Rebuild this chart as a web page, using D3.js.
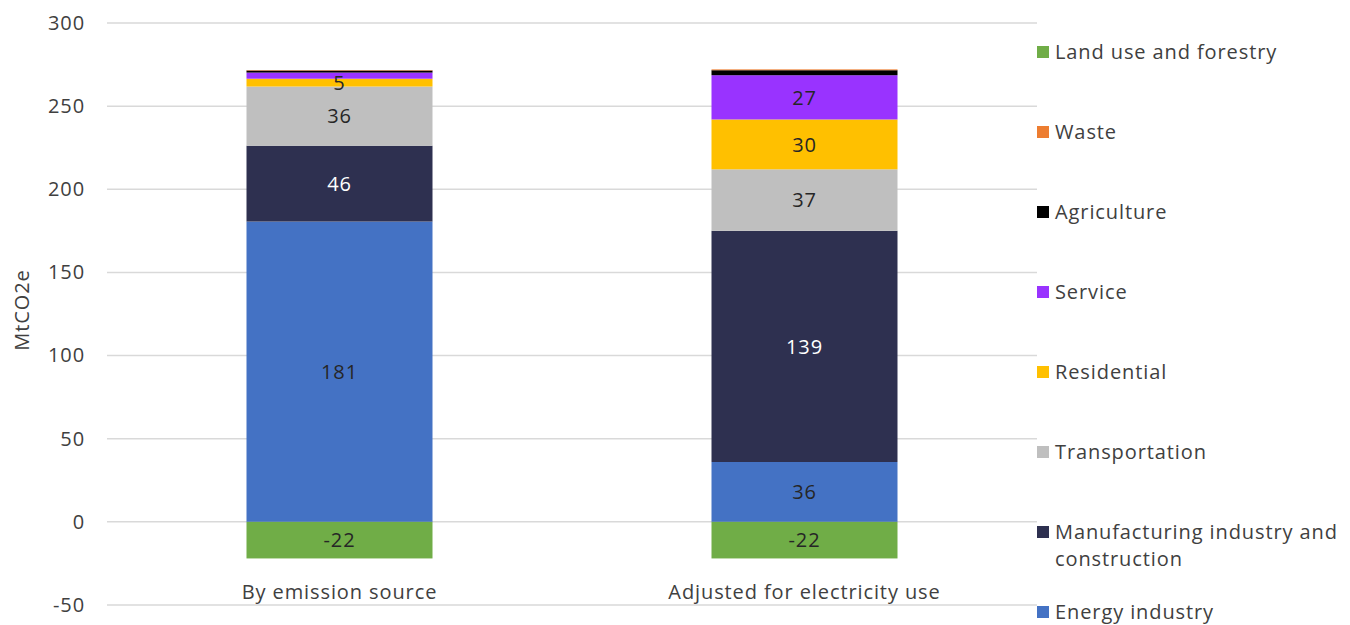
<!DOCTYPE html>
<html>
<head>
<meta charset="utf-8">
<script src="https://cdn.jsdelivr.net/npm/d3@7"></script>
<style>
  html, body { margin: 0; padding: 0; background: #fff; }
  text { font-family: "Open Sans", "Noto Sans", sans-serif; letter-spacing: 0.9px; }
</style>
</head>
<body>
<svg id="chart" width="1350" height="625"></svg>
<script>
const categories = ["By emission source", "Adjusted for electricity use"];
const seriesNames = ["Energy industry", "Manufacturing industry and construction", "Transportation", "Residential", "Service", "Agriculture", "Waste", "Land use and forestry"];
const energy = [180.6, 36];
const manufacturing = [45.6, 139];
const transportation = [35.6, 37];
const residential = [4.7, 30];
const service = [3.7, 26.6];
const agriculture = [1.2, 3];
const waste = [0.3, 0.5];
const landUse = [-22, -22];
const colors = ["#4472c4", "#2e3050", "#bfbfbf", "#ffc000", "#9933ff", "#000000", "#ed7d31", "#70ad47"];
const yTicks = [-50, 0, 50, 100, 150, 200, 250, 300];
const legendOrder = ["Land use and forestry", "Waste", "Agriculture", "Service", "Residential", "Transportation", "Manufacturing industry and construction", "Energy industry"];

const valuesBySeries = [energy, manufacturing, transportation, residential, service, agriculture, waste, landUse];
const rows = categories.map((c, i) => {
  const r = { category: c };
  seriesNames.forEach((s, j) => r[s] = valuesBySeries[j][i]);
  return r;
});

const FONT = "'Open Sans', 'Noto Sans', sans-serif";
const FS = 20;
const svg = d3.select("#chart");
const x = d3.scaleBand().domain(categories).range([107, 1037]).paddingInner(0.6).paddingOuter(0.3);
const y = d3.scaleLinear().domain([-50, 300]).range([605, 23]);
const color = d3.scaleOrdinal().domain(seriesNames).range(colors);

// gridlines
svg.append("g").selectAll("line").data(yTicks).join("line")
  .attr("x1", 107).attr("x2", 1037)
  .attr("y1", d => y(d)).attr("y2", d => y(d))
  .attr("stroke", "#d9d9d9").attr("stroke-width", 1.5);

// y axis labels
const yAxis = d3.axisLeft(y).tickValues(yTicks).tickSize(0).tickPadding(0).tickFormat(d => String(d));
const ga = svg.append("g").attr("transform", "translate(85,0)").call(yAxis);
ga.select(".domain").remove();
ga.selectAll("text").attr("font-size", FS).attr("fill", "#404040").style("font-family", FONT);

// y title
svg.append("text").attr("transform", "translate(29,310) rotate(-90)")
  .attr("text-anchor", "middle").attr("font-size", FS).attr("fill", "#404040").text("MtCO2e");

// stacks
const stack = d3.stack().keys(seriesNames).offset(d3.stackOffsetDiverging);
const stacked = stack(rows);

const groups = svg.append("g").selectAll("g").data(stacked).join("g")
  .attr("fill", d => color(d.key));
groups.selectAll("rect").data(d => d.map(p => ({ p, key: d.key }))).join("rect")
  .attr("x", d => x(d.p.data.category))
  .attr("width", x.bandwidth())
  .attr("y", d => y(Math.max(d.p[0], d.p[1])))
  .attr("height", d => Math.abs(y(d.p[0]) - y(d.p[1])));

// labels
const labelData = [];
stacked.forEach(s => s.forEach(p => {
  const v = p.data[s.key];
  if (Math.abs(v) >= 4.5) labelData.push({ key: s.key, cat: p.data.category, v, mid: (p[0] + p[1]) / 2 });
}));
svg.append("g").selectAll("text").data(labelData).join("text")
  .attr("x", d => x(d.cat) + x.bandwidth() / 2)
  .attr("y", d => y(d.mid))
  .attr("dy", "0.36em")
  .attr("text-anchor", "middle")
  .attr("font-size", FS)
  .attr("fill", d => d.key === "Manufacturing industry and construction" ? "#ffffff" : "#262626")
  .text(d => String(Math.round(d.v)));

// x labels
svg.append("g").selectAll("text").data(categories).join("text")
  .attr("x", d => x(d) + x.bandwidth() / 2)
  .attr("y", 599)
  .attr("text-anchor", "middle").attr("font-size", FS).attr("fill", "#404040")
  .text(d => d);

// legend
const lg = svg.append("g").selectAll("g").data(legendOrder).join("g")
  .attr("transform", (d, i) => `translate(1037,${52 + i * 80})`);
lg.append("rect").attr("x", 0).attr("y", -6).attr("width", 12).attr("height", 12)
  .attr("fill", d => color(d));
lg.append("text").attr("x", 18).attr("y", 0).attr("dy", "0.34em")
  .attr("font-size", FS).attr("fill", "#404040")
  .each(function(d) {
    const t = d3.select(this);
    if (d === "Manufacturing industry and construction") {
      t.append("tspan").attr("x", 18).text("Manufacturing industry and");
      t.append("tspan").attr("x", 18).attr("dy", 27).text("construction");
    } else {
      t.text(d);
    }
  });
</script>
</body>
</html>
